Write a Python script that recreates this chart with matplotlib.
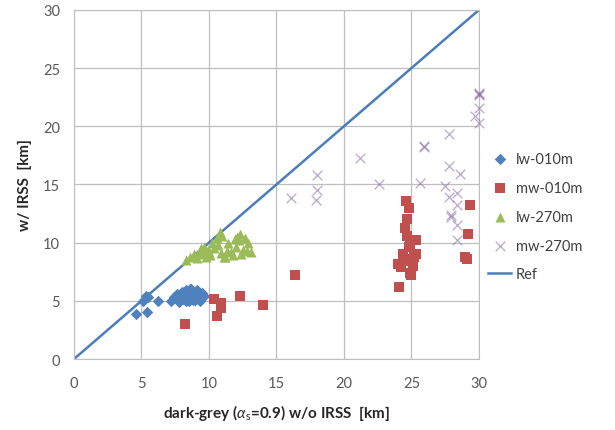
import matplotlib
matplotlib.use("Agg")
import matplotlib.pyplot as plt

plt.rcParams['font.family'] = ['Lato', 'DejaVu Sans']
plt.rcParams['mathtext.fontset'] = 'custom'
plt.rcParams['mathtext.rm'] = 'Lato'
plt.rcParams['mathtext.it'] = 'Lato:italic'

# lw-010m
lw010_x = [4.6, 5.4, 5.1, 5.3, 5.5, 6.2, 7.2, 7.4, 7.6, 7.7, 7.9, 8.0, 8.1, 8.2, 8.3, 8.4, 8.5, 8.5,
           8.6, 8.7, 8.8, 8.8, 8.9, 9.0, 9.1, 9.2, 9.3, 9.4, 9.5, 9.6, 7.8, 8.3, 8.6, 9.0, 9.3]
lw010_y = [3.9, 4.0, 5.0, 5.4, 5.3, 5.0, 5.0, 5.3, 5.6, 5.1, 5.5, 5.8, 5.2, 5.6, 5.9, 5.4, 5.0, 5.7,
           5.3, 6.0, 5.5, 5.1, 5.8, 5.4, 5.9, 5.2, 5.6, 5.3, 5.7, 5.4, 4.9, 5.0, 6.0, 5.1, 5.0]

# mw-010m
mw010_x = [8.2, 10.4, 10.6, 10.9, 10.9, 12.3, 14.0, 16.4, 24.0, 24.1, 24.2, 24.4, 24.5, 24.6, 24.6,
           24.7, 24.7, 24.8, 24.8, 24.9, 24.9, 25.0, 25.0, 25.1, 25.2, 25.3, 25.3, 29.0, 29.1, 29.2, 29.3]
mw010_y = [3.0, 5.2, 3.7, 4.4, 4.8, 5.4, 4.6, 7.2, 8.2, 6.2, 7.9, 9.0, 11.3, 13.6, 8.6,
           10.6, 12.0, 13.0, 9.6, 9.9, 7.4, 7.2, 8.4, 8.0, 8.8, 9.0, 10.2, 8.8, 8.6, 10.7, 13.2]

# lw-270m
lw270_x = [8.3, 8.6, 8.9, 9.1, 9.3, 9.5, 9.6, 9.8, 10.0, 10.2, 10.4, 10.6, 10.8, 10.9, 11.0, 11.2, 11.4,
           11.6, 11.8, 12.0, 12.2, 12.3, 12.5, 12.7, 12.8, 9.4, 10.1, 10.7, 11.3, 11.9, 12.4, 9.9, 11.1, 12.1,
           13.1, 12.9]
lw270_y = [8.5, 8.8, 9.0, 8.7, 9.3, 9.0, 9.6, 8.8, 9.2, 10.0, 9.5, 10.4, 10.9, 9.1, 10.6, 8.8, 10.0,
           9.2, 8.9, 9.6, 10.2, 10.7, 9.4, 10.4, 9.3, 9.5, 8.9, 9.8, 9.3, 10.3, 9.0, 9.4, 8.8, 10.5,
           9.2, 10.0]

# mw-270m
mw270_x = [16.1, 17.9, 18.0, 18.0, 21.2, 22.6, 25.6, 25.9, 25.9, 27.5, 27.8, 27.8, 27.8, 27.9, 27.9,
           28.4, 28.4, 28.4, 28.4, 28.6, 29.7, 30.0, 30.0, 30.0, 30.0, 30.0]
mw270_y = [13.8, 13.7, 14.5, 15.8, 17.3, 15.0, 15.1, 18.3, 18.2, 14.9, 16.6, 13.9, 19.3, 12.4, 12.2,
           14.3, 13.2, 11.5, 10.2, 15.9, 20.9, 22.8, 22.7, 22.9, 21.6, 20.3]

ref_x = [0, 30]
ref_y = [0, 30]

fig = plt.figure(figsize=(6.15, 4.31), dpi=100)
ax = fig.add_axes([0.1203, 0.1647, 0.6585, 0.81])

ax.plot(ref_x, ref_y, color='#4A7EBB', lw=1.8, label='Ref', zorder=2)
ax.scatter(lw010_x, lw010_y, marker='D', s=34, color='#4F81BD', label='lw-010m', zorder=3,
           linewidths=0, clip_on=False)
ax.scatter(mw010_x, mw010_y, marker='s', s=55, color='#C0504D', label='mw-010m', zorder=3,
           linewidths=0, clip_on=False)
ax.scatter(lw270_x, lw270_y, marker='^', s=52, color='#9BBB59', label='lw-270m', zorder=3,
           linewidths=0, clip_on=False)
ax.scatter(mw270_x, mw270_y, marker='x', s=48, color='#8064A2', alpha=0.55, linewidths=0.9,
           label='mw-270m', zorder=4, clip_on=False)

ax.set_xlim(0, 30)
ax.set_ylim(0, 30)
ax.set_xticks(range(0, 31, 5))
ax.set_yticks(range(0, 31, 5))
ax.grid(True, color='#bfbfbf', lw=0.9)
ax.set_axisbelow(True)
for s in ax.spines.values():
    s.set_color('#bfbfbf')
ax.tick_params(length=0, labelsize=10.5, colors='#595959', pad=12)
ax.tick_params(axis='y', pad=10)

ax.set_xlabel(r'dark-grey ($\alpha_\mathrm{s}$=0.9) w/o IRSS  [km]', fontsize=11, fontweight='bold',
              labelpad=9, color='#262626')
ax.set_ylabel('w/ IRSS  [km]', fontsize=11, fontweight='bold', labelpad=8, color='#262626')

h, l = ax.get_legend_handles_labels()
order = [1, 2, 3, 4, 0]
ax.legend([h[i] for i in order], [l[i] for i in order], loc='center left',
          bbox_to_anchor=(0.772, 0.495), bbox_transform=fig.transFigure, frameon=False,
          fontsize=10.5, labelspacing=1.02, handlelength=1.6, handletextpad=0.3,
          labelcolor='#404040')

fig.savefig('out.png', dpi=100)
